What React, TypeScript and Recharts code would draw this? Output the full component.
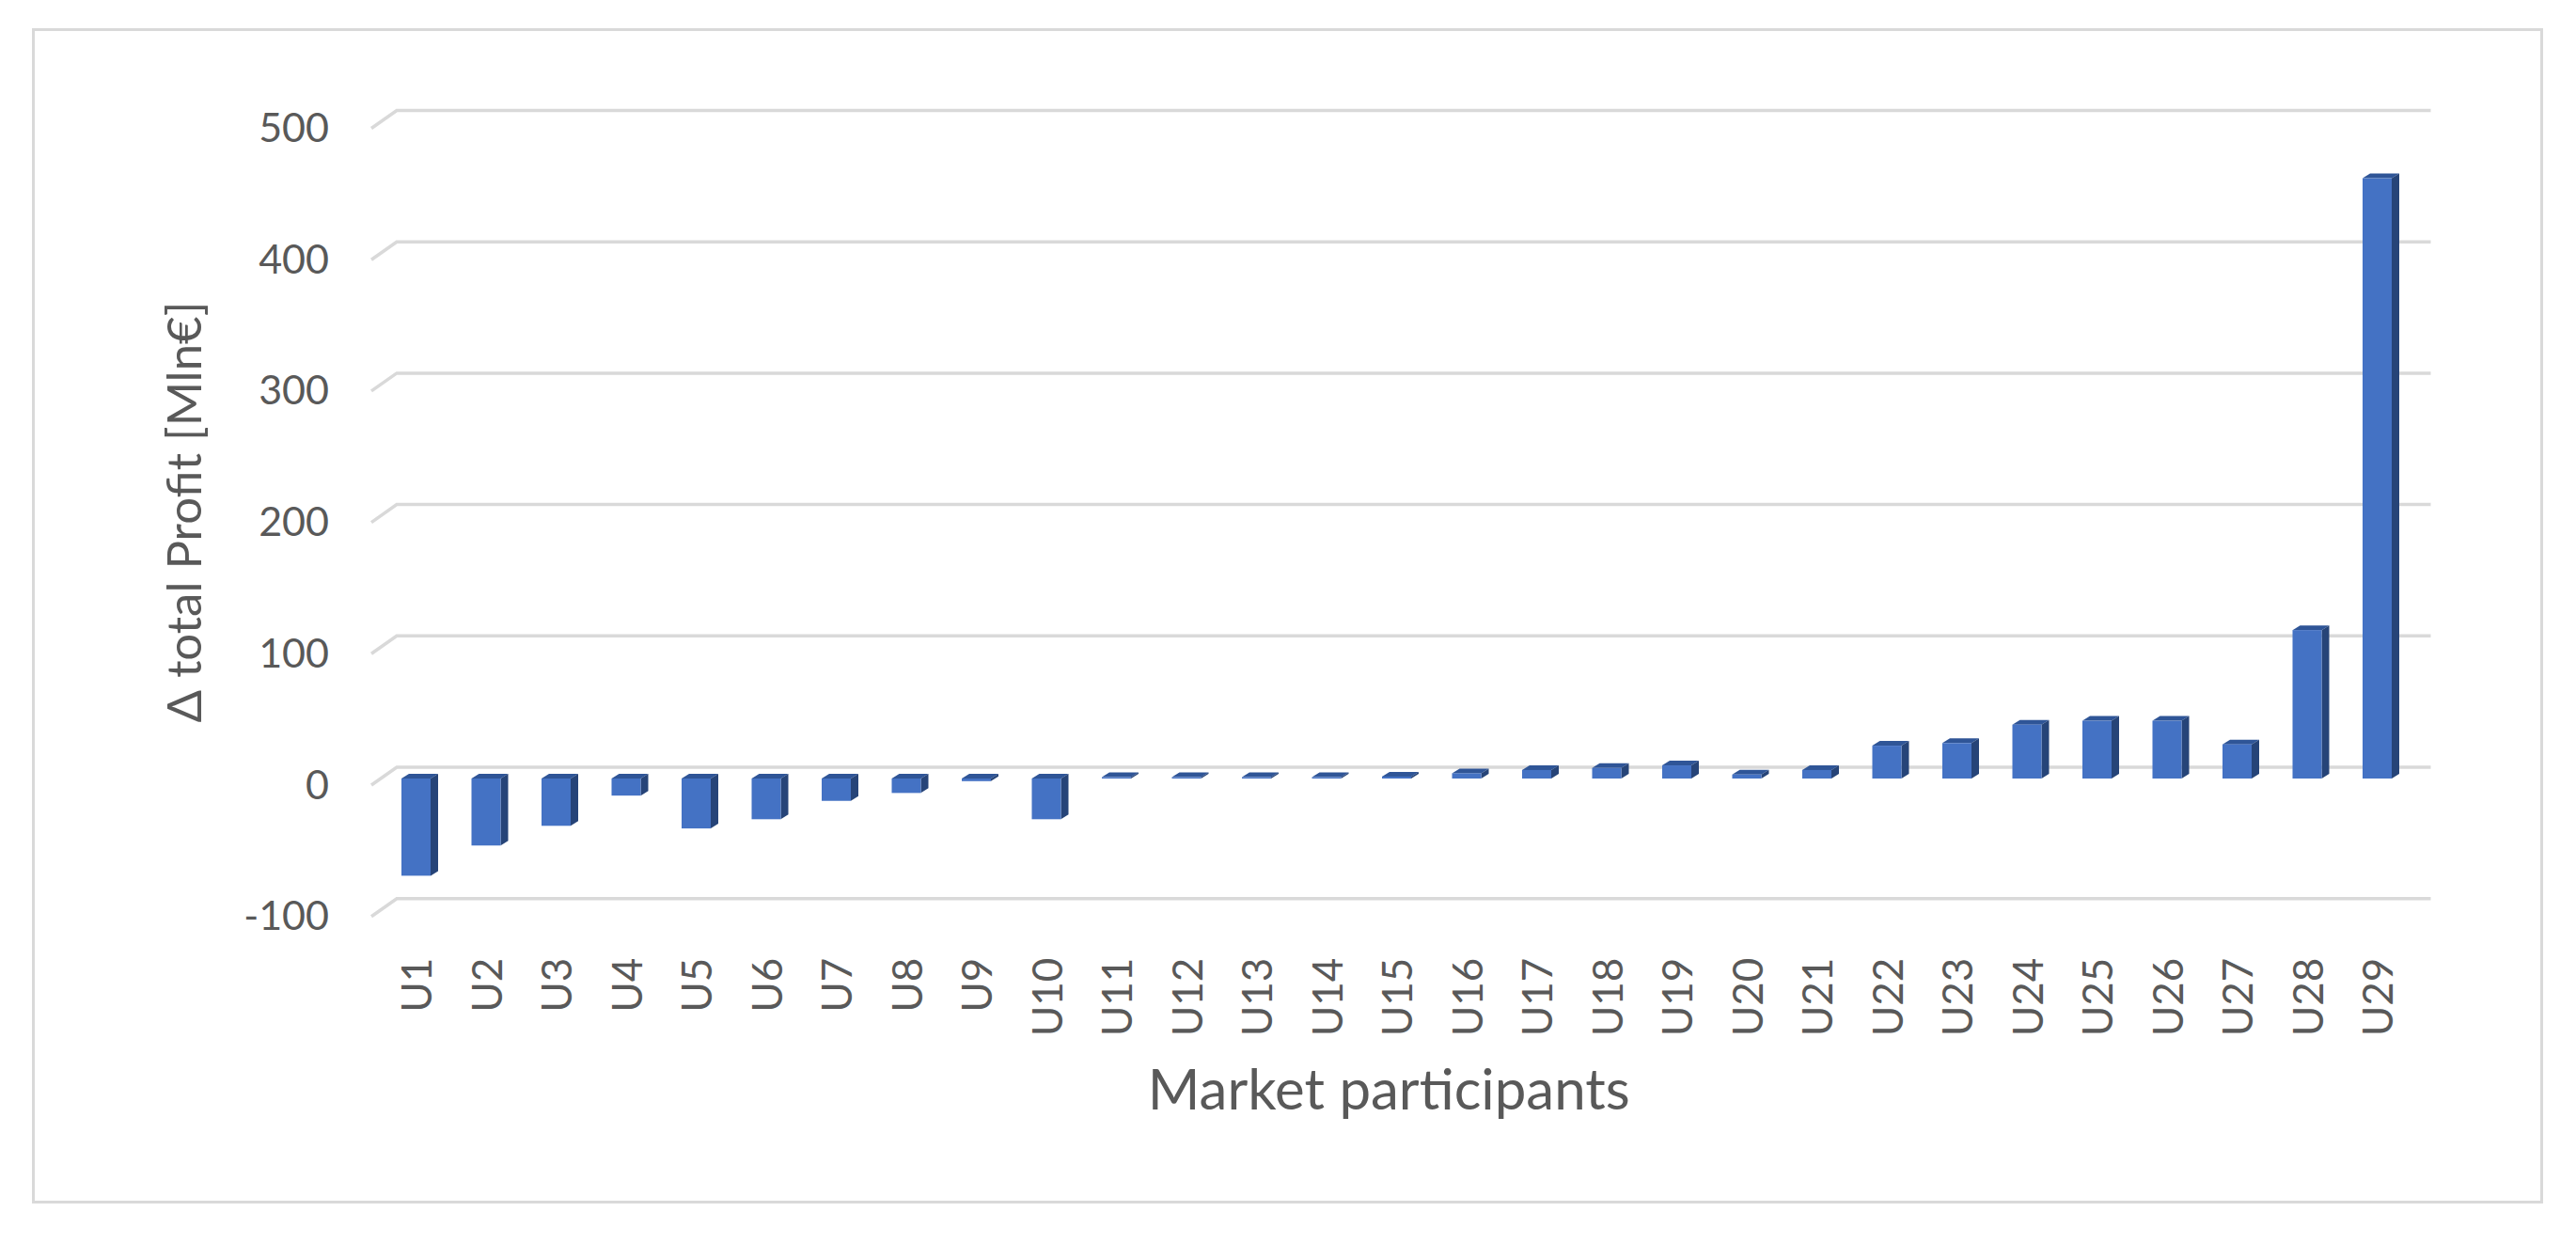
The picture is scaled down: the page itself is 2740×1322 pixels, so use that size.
import React from 'react';
import { BarChart, Bar, XAxis, YAxis, CartesianGrid } from 'recharts';

const participants = [
  'U1', 'U2', 'U3', 'U4', 'U5', 'U6', 'U7', 'U8', 'U9', 'U10',
  'U11', 'U12', 'U13', 'U14', 'U15', 'U16', 'U17', 'U18', 'U19', 'U20',
  'U21', 'U22', 'U23', 'U24', 'U25', 'U26', 'U27', 'U28', 'U29',
];
const profitDelta = [
  -74, -51, -36, -13, -38, -31, -17, -11, -2, -31,
  1, 1, 1, 1, 1.5, 4, 6.5, 8, 10, 3,
  6.5, 25, 27, 41, 44, 44, 26, 113, 457,
];
const yTicks = [-100, 0, 100, 200, 300, 400, 500];

const data = participants.map((name, i) => ({ name, value: profitDelta[i] }));

const FONT = 'Lato, "Open Sans", sans-serif';
const TEXT = '#595959';
const GRID = '#d9d9d9';

// 3d-ish column: front face + dark side + top face
const BoxShape = (props: any) => {
  const { x, y, width, height } = props;
  const top = Math.min(y, y + height);
  const h = Math.abs(height);
  const dx = 8;
  const dy = 5;
  const r = x + width;
  return (
    <g>
      <polygon
        points={`${x},${top} ${x + dx},${top - dy} ${r + dx},${top - dy} ${r},${top}`}
        fill="#2F5597"
      />
      <polygon
        points={`${r},${top} ${r + dx},${top - dy} ${r + dx},${top + h - dy} ${r},${top + h}`}
        fill="#264478"
      />
      <rect x={x} y={top} width={width} height={h} fill="#4472C4" />
    </g>
  );
};

// back-wall gridline with the little floor diagonal on the left
const GridLine = (p: any) => {
  const { x1, x2, y1, index } = p;
  const yb = y1 - 12;
  return (
    <path
      key={`grid-${index}`}
      d={`M${x1 - 10},${yb + 19} L${x1 + 17},${yb} L${x2 + 20},${yb}`}
      stroke={GRID}
      strokeWidth={3.5}
      fill="none"
    />
  );
};

const XTick = ({ x, y, payload }: any) => (
  <text
    x={x}
    y={y}
    transform={`rotate(-90 ${x} ${y})`}
    textAnchor="end"
    dominantBaseline="central"
    fill={TEXT}
    fontSize={44}
    fontFamily={FONT}
  >
    {payload.value}
  </text>
);

const YTick = ({ x, y, payload }: any) => (
  <text
    x={x}
    y={y + 5}
    textAnchor="end"
    dominantBaseline="central"
    fill={TEXT}
    fontSize={43}
    fontFamily={FONT}
  >
    {payload.value}
  </text>
);

const YTitle = ({ viewBox }: any) => {
  const cx = viewBox.x + 195;
  const cy = viewBox.y + viewBox.height / 2 - 4;
  return (
    <text
      x={cx}
      y={cy}
      transform={`rotate(-90 ${cx} ${cy})`}
      textAnchor="middle"
      dominantBaseline="central"
      fill={TEXT}
      fontSize={51}
      fontFamily={FONT}
    >
      Δ total Profit [Mln€]
    </text>
  );
};

const XTitle = ({ viewBox }: any) => (
  <text
    x={viewBox.x + viewBox.width / 2 - 8}
    y={viewBox.y + 189}
    textAnchor="middle"
    dominantBaseline="central"
    fill={TEXT}
    fontSize={60}
    fontFamily={FONT}
  >
    Market participants
  </text>
);

export default function App() {
  return (
    <div style={{ position: 'absolute', left: 0, top: 0, width: 2740, height: 1322, background: '#fff' }}>
      <div
        style={{
          position: 'absolute',
          left: 34,
          top: 30,
          width: 2671,
          height: 1250,
          border: `3px solid ${GRID}`,
          boxSizing: 'border-box',
        }}
      />
      <div style={{ position: 'absolute', left: 0, top: 0 }}>
        <BarChart
          width={2740}
          height={1322}
          data={data}
          margin={{ top: 129.5, right: 174.5, bottom: 104.3, left: 0 }}
        >
          <CartesianGrid vertical={false} horizontal={GridLine} />
          <XAxis
            dataKey="name"
            interval={0}
            height={250}
            axisLine={false}
            tickLine={false}
            tickSize={0}
            tickMargin={51}
            tick={<XTick />}
            label={<XTitle />}
          />
          <YAxis
            width={405}
            domain={[-100, 500]}
            ticks={yTicks}
            allowDataOverflow
            axisLine={false}
            tickLine={false}
            tickSize={0}
            tickMargin={55}
            tick={<YTick />}
            label={<YTitle />}
          />
          <Bar dataKey="value" barSize={31} isAnimationActive={false} shape={BoxShape} />
        </BarChart>
      </div>
    </div>
  );
}
